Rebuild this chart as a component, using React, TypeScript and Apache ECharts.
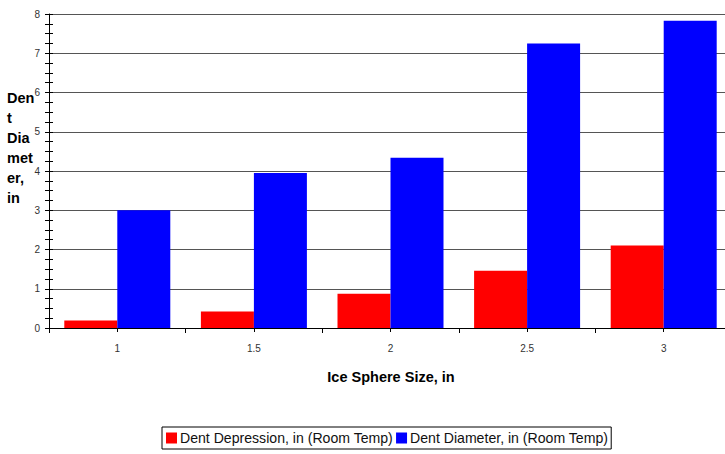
import React, { useEffect, useRef } from "react";
import * as echarts from "echarts";

const categories = ["1", "1.5", "2", "2.5", "3"];
const depression = [0.19, 0.42, 0.87, 1.46, 2.1];
const diameter = [3.0, 3.95, 4.34, 7.25, 7.83];
const seriesNames = ["Dent Depression, in (Room Temp)", "Dent Diameter, in (Room Temp)"];
const yTitle = "Den\nt\nDia\nmet\ner,\nin";
const xTitle = "Ice Sphere Size, in";

const FONT = "'Liberation Sans', Arial, sans-serif";

export default function App() {
  const ref = useRef<HTMLDivElement>(null);

  useEffect(() => {
    document.body.style.margin = "0";
    if (!ref.current) return;
    const chart = echarts.init(ref.current, null, { renderer: "svg" });
    // plot area runs a little past the right edge of the canvas
    const grid = { left: 49, top: 14, width: 683, height: 314, outerBoundsMode: "none", containLabel: false };
    chart.setOption({
      animation: false,
      backgroundColor: "#ffffff",
      textStyle: { fontFamily: FONT },
      grid,
      legend: {
        left: 162,
        top: 427,
        padding: [4, 3, 4, 4],
        itemGap: 3,
        itemWidth: 11,
        itemHeight: 11,
        borderColor: "#000",
        borderWidth: 1,
        borderRadius: 0,
        icon: "rect",
        textStyle: { fontSize: 14.1, color: "#111", fontFamily: FONT, padding: [0, 0, 0, -2] },
        data: seriesNames,
      },
      xAxis: [
        {
          type: "category",
          data: categories,
          position: "bottom",
          axisLine: { lineStyle: { color: "#000", width: 1 } },
          axisTick: { show: true, alignWithLabel: false, length: 5, lineStyle: { color: "#000" } },
          axisLabel: { fontSize: 10, color: "#333", margin: 15, fontFamily: FONT },
          splitLine: { show: false },
        },
        {
          type: "category",
          data: categories,
          position: "bottom",
          offset: 0,
          axisLine: { show: false },
          axisTick: { show: true, alignWithLabel: true, length: 4, lineStyle: { color: "#000" } },
          axisLabel: { show: false },
          splitLine: { show: false },
        },
      ],
      yAxis: [
        {
          type: "value",
          min: 0,
          max: 8,
          interval: 1,
          position: "left",
          axisLine: { show: true, lineStyle: { color: "#000" } },
          axisTick: { show: true, length: 4, lineStyle: { color: "#000" } },
          minorTick: { show: true, splitNumber: 4, length: 4, lineStyle: { color: "#000" } },
          axisLabel: { fontSize: 10, color: "#333", margin: 9, fontFamily: FONT },
          splitLine: { show: true, lineStyle: { color: "#555", width: 1 } },
        },
        {
          type: "value",
          min: 0,
          max: 8,
          interval: 1,
          position: "left",
          offset: 0,
          axisLine: { show: false },
          axisTick: { show: true, inside: true, length: 4, lineStyle: { color: "#000" } },
          minorTick: { show: true, splitNumber: 4, length: 4, lineStyle: { color: "#000" } },
          axisLabel: { show: false },
          splitLine: { show: false },
        },
      ],
      series: [
        {
          name: seriesNames[0],
          type: "bar",
          data: depression,
          barWidth: 53,
          barGap: "0%",
          itemStyle: { color: "#ff0000" },
        },
        {
          name: seriesNames[1],
          type: "bar",
          data: diameter,
          barWidth: 53,
          barGap: "0%",
          itemStyle: { color: "#0000ff" },
        },
      ],
      graphic: [
        {
          type: "text",
          left: 7,
          top: 88,
          style: {
            text: yTitle,
            fontSize: 14.5,
            fontWeight: "bold",
            lineHeight: 20,
            fill: "#000",
            fontFamily: FONT,
          },
        },
        {
          type: "text",
          x: 391,
          y: 377,
          style: {
            text: xTitle,
            fontSize: 14.5,
            fontWeight: "bold",
            fill: "#000",
            align: "center",
            verticalAlign: "middle",
            fontFamily: FONT,
          },
        },
      ],
    });
    return () => chart.dispose();
  }, []);

  return <div ref={ref} style={{ width: 725, height: 454 }} />;
}
